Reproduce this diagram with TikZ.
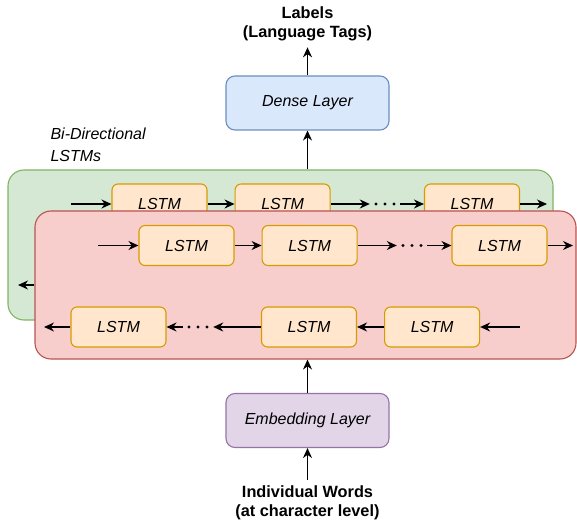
\documentclass[tikz,border=0pt]{standalone}
\usepackage{fontspec}
\setmainfont{Liberation Sans}
\usetikzlibrary{arrows.meta,positioning}
\definecolor{fwdfill}{HTML}{D5E8D4}\definecolor{fwdline}{HTML}{82B366}
\definecolor{bwdfill}{HTML}{F8CECC}\definecolor{bwdline}{HTML}{B85450}
\definecolor{cellfill}{HTML}{FFE6CC}\definecolor{cellline}{HTML}{D79B00}
\definecolor{densefill}{HTML}{DAE8FC}\definecolor{denseline}{HTML}{6C8EBF}
\definecolor{embfill}{HTML}{E1D5E7}\definecolor{embline}{HTML}{9673A6}

\begin{document}
\begin{tikzpicture}[x=1pt,y=-1pt,font=\fontsize{16}{19}\selectfont,node distance=27pt,
 pane/.style={draw,line width=1.1pt,rounded corners=16pt},
 cell/.style={draw=cellline,fill=cellfill,line width=1.1pt,rounded corners=6pt,
   minimum width=95pt,minimum height=40pt,font=\fontsize{16}{19}\selectfont\itshape},
 blk/.style={draw,line width=1.1pt,rounded corners=9pt,minimum width=163pt,
   minimum height=54pt,font=\fontsize{16}{19}\selectfont\itshape},
 txt/.style={align=center,inner sep=6pt,font=\fontsize{16.3}{19}\selectfont\bfseries},
 dts/.style={inner sep=0pt,minimum width=30pt,minimum height=6pt,
   path picture={\foreach \d in {-9,0,9}
     \fill ([xshift=\d pt]path picture bounding box.center) circle (1.6pt);}},
 arr/.style={line width=1.3pt,-{Stealth[length=10pt,width=9pt]}}]
\useasboundingbox (0,0) rectangle (577,526);

% top: output labels and dense layer
\node[txt] (lbl) at (307.5,24) {Labels\\(Language Tags)};
\node[blk,draw=denseline,fill=densefill] (dense) at (307.5,103) {Dense Layer};
\node[align=left,anchor=west,font=\fontsize{16}{22}\selectfont\itshape] (bidir) at (47,145) {Bi-Directional\\LSTMs};

% forward pass (back panel)
\node[pane,draw=fwdline,fill=fwdfill,minimum width=545pt,minimum height=150pt] (fwd) at (280.5,245) {};
\node[cell] (f1) at (159.5,204) {LSTM};
\node[cell,right=of f1] (f2) {LSTM};
\node[dts] (fd) at (385,204) {};
\node[cell] (f3) at (472,204) {LSTM};
\coordinate (fin) at (71,204);
\coordinate (fout) at (547,204);
\coordinate (gl) at (18,285);
\draw[arr](fin)--(f1);\draw[arr](f1)--(f2);\draw[arr](f2)--(fd);
\draw[arr](fd)--(f3);\draw[arr](f3)--(fout);

% backward pass (front panel)
\node[pane,draw=bwdline,fill=bwdfill,minimum width=541pt,minimum height=148pt] (bwd) at (305.5,285) {};
\draw[arr](bwd.west)--(gl);
\node[cell] (r1) at (186.5,245.5) {LSTM};
\node[cell,right=of r1] (r2) {LSTM};
\node[dts] (rd) at (412,245.5) {};
\node[cell] (r3) at (499.5,245.5) {LSTM};
\node[cell] (b1) at (118.5,327) {LSTM};
\node[dts] (bd) at (198,327) {};
\node[cell] (b2) at (309,327) {LSTM};
\node[cell,right=of b2] (b3) {LSTM};
\coordinate (rin) at (98,245.5);
\coordinate (rout) at (573,245.5);
\coordinate (bin) at (520,327);
\coordinate (bout) at (44,327);
\draw[arr](rin)--(r1);\draw[arr](r1)--(r2);\draw[arr](r2)--(rd);
\draw[arr](rd)--(r3);\draw[arr](r3)--(rout);
\draw[arr](bin)--(b3);\draw[arr](b3)--(b2);\draw[arr](b2)--(bd);
\draw[arr](bd)--(b1);\draw[arr](b1)--(bout);

% bottom: embedding and input
\node[blk,draw=embline,fill=embfill] (embed) at (307.5,420.5) {Embedding Layer};
\node[txt] (words) at (307.5,503) {Individual Words\\(at character level)};

\draw[arr](words)--(embed);
\draw[arr](embed)--(embed |- bwd.south);
\draw[arr](dense.south |- fwd.north)--(dense);
\draw[arr](dense)--(lbl);
\end{tikzpicture}
\end{document}
